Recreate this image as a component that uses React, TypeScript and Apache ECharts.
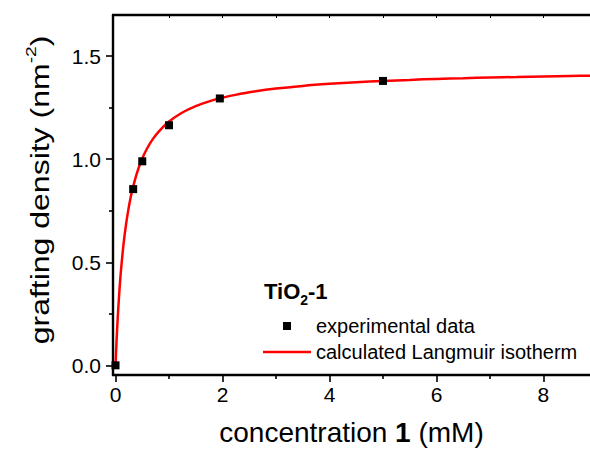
import React, { useEffect, useRef } from 'react';
import * as echarts from 'echarts';

const expX = [0, 0.33, 0.5, 1.0, 1.95, 5.0];
const expY = [0, 0.855, 0.99, 1.165, 1.295, 1.38];

const curveX = [0, 0.01, 0.02, 0.035, 0.05, 0.075, 0.1, 0.15, 0.2, 0.25, 0.3, 0.4, 0.5, 0.6, 0.7, 0.8, 1.0, 1.25, 1.5, 1.75, 2, 2.25, 2.5, 3, 3.5, 4, 4.5, 5, 5.5, 6, 6.5, 7, 7.5, 8, 8.5, 9];
const curveY = [0, 0.063, 0.121, 0.2, 0.269, 0.369, 0.454, 0.588, 0.69, 0.77, 0.835, 0.933, 1.004, 1.057, 1.099, 1.132, 1.183, 1.227, 1.258, 1.281, 1.299, 1.313, 1.325, 1.343, 1.356, 1.366, 1.374, 1.38, 1.385, 1.39, 1.393, 1.397, 1.399, 1.402, 1.404, 1.406];

const xMajor = [0, 2, 4, 6, 8];
const xMinor = [1, 3, 5, 7];
const xTop = [1, 2, 3, 4, 5, 6, 7, 8];
const yMajor = [0, 0.5, 1.0, 1.5];
const yMinor = [0.25, 0.75, 1.25];

const seriesNames = ['experimental data', 'calculated Langmuir isotherm'];

const FONT = "'Liberation Sans', Arial, sans-serif";
const X_MIN = -0.047;
const X_MAX = 8.87;
const Y_MIN = -0.047;
const Y_MAX = 1.7;

export default function App() {
  const ref = useRef<HTMLDivElement>(null);
  useEffect(() => {
    document.body.style.margin = '0';
    if (!ref.current) return;
    const chart = echarts.init(ref.current, undefined, { renderer: 'svg' });
    const axisCommon = {
      type: 'value' as const,
      splitLine: { show: false },
    };
    const option: any = {
      animation: false,
      backgroundColor: '#ffffff',
      textStyle: { fontFamily: FONT, color: '#000' },
      grid: { left: 113, top: 15, right: 0, bottom: 77, containLabel: false },
      xAxis: [
        {
          ...axisCommon,
          position: 'bottom',
          min: X_MIN,
          max: X_MAX,
          axisLine: { show: true, onZero: false, lineStyle: { color: '#000', width: 2.4 } },
          axisTick: { show: true, inside: false, length: 7, customValues: xMajor, lineStyle: { color: '#000', width: 1.6 } },
          axisLabel: {
            show: true,
            customValues: xMajor,
            margin: 9,
            fontSize: 21,
            color: '#000',
            fontFamily: FONT,
            formatter: (v: number) => String(Math.round(v)),
          },
          name: 'concentration {b|1} (mM)',
          nameLocation: 'middle',
          nameGap: 43,
          nameTextStyle: {
            fontSize: 28,
            color: '#000',
            fontFamily: FONT,
            rich: {
              b: { fontSize: 28, fontWeight: 'bold', color: '#000', fontFamily: FONT },
            },
          },
        },
        {
          ...axisCommon,
          position: 'bottom',
          min: X_MIN,
          max: X_MAX,
          axisLine: { show: false, onZero: false },
          axisTick: { show: true, inside: false, length: 4, customValues: xMinor, lineStyle: { color: '#000', width: 1.6 } },
          axisLabel: { show: false },
        },
        {
          ...axisCommon,
          position: 'top',
          min: X_MIN,
          max: X_MAX,
          axisLine: { show: true, onZero: false, lineStyle: { color: '#000', width: 2.4 } },
          axisTick: { show: true, inside: true, length: 3, customValues: xTop, lineStyle: { color: '#000', width: 1 } },
          axisLabel: { show: false },
        },
      ],
      yAxis: [
        {
          ...axisCommon,
          position: 'left',
          min: Y_MIN,
          max: Y_MAX,
          axisLine: { show: true, onZero: false, lineStyle: { color: '#000', width: 2.4 } },
          axisTick: { show: true, inside: false, length: 7, customValues: yMajor, lineStyle: { color: '#000', width: 1.6 } },
          axisLabel: {
            show: true,
            customValues: yMajor,
            margin: 12,
            fontSize: 21,
            color: '#000',
            fontFamily: FONT,
            formatter: (v: number) => v.toFixed(1),
          },
        },
        {
          ...axisCommon,
          position: 'left',
          min: Y_MIN,
          max: Y_MAX,
          axisLine: { show: false, onZero: false },
          axisTick: { show: true, inside: false, length: 4, customValues: yMinor, lineStyle: { color: '#000', width: 1.6 } },
          axisLabel: { show: false },
        },
      ],
      legend: {
        orient: 'vertical',
        left: 263,
        top: 316,
        padding: 0,
        itemGap: 6,
        itemWidth: 48,
        itemHeight: 8,
        selectedMode: false,
        symbolKeepAspect: true,
        textStyle: { fontSize: 20, color: '#000', fontFamily: FONT },
        data: [
          { name: seriesNames[0], icon: 'path://M0,0h8v8h-8z', itemStyle: { color: '#000' } },
          { name: seriesNames[1], icon: 'path://M0,0h48v2.5h-48z', itemStyle: { color: '#ff0000' } },
        ],
      },
      graphic: [
        {
          type: 'text',
          left: 264,
          top: 280,
          style: {
            text: '{a|TiO}{b|2}{a|-1}',
            fill: '#000',
            rich: {
              a: { fontSize: 22, fontWeight: 'bold', lineHeight: 23, verticalAlign: 'top', fontFamily: FONT, fill: '#000' },
              b: { fontSize: 14, fontWeight: 'bold', lineHeight: 14, verticalAlign: 'top', padding: [13, 0, 0, 0], fontFamily: FONT, fill: '#000' },
            },
          },
        },
        {
          type: 'text',
          x: 38,
          y: 190,
          rotation: Math.PI / 2,
          scaleX: 1.28,
          style: {
            text: '{n|grafting density (nm}{s|-2}{n|)}',
            fill: '#000',
            align: 'center',
            verticalAlign: 'middle',
            rich: {
              n: { fontSize: 25, lineHeight: 30, verticalAlign: 'bottom', fontFamily: FONT, fill: '#000' },
              s: { fontSize: 15, lineHeight: 15, verticalAlign: 'top', fontFamily: FONT, fill: '#000' },
            },
          },
        },
      ],
      series: [
        {
          name: seriesNames[1],
          type: 'line',
          xAxisIndex: 0,
          yAxisIndex: 0,
          data: curveX.map((x, i) => [x, curveY[i]]),
          showSymbol: false,
          symbol: 'none',
          smooth: 0.35,
          lineStyle: { color: '#ff0000', width: 2.5 },
          itemStyle: { color: '#ff0000' },
          z: 2,
        },
        {
          name: seriesNames[0],
          type: 'scatter',
          xAxisIndex: 0,
          yAxisIndex: 0,
          data: expX.map((x, i) => [x, expY[i]]),
          symbol: 'rect',
          symbolSize: 8,
          itemStyle: { color: '#000', opacity: 1 },
          z: 3,
        },
      ],
    };
    chart.setOption(option);
    return () => chart.dispose();
  }, []);
  return <div ref={ref} style={{ width: 590, height: 452 }} />;
}
